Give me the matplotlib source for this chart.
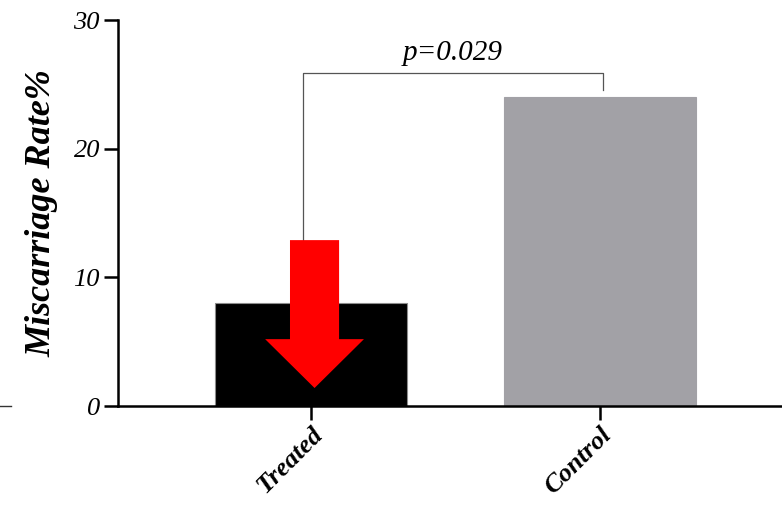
import matplotlib
matplotlib.use("Agg")
import matplotlib.pyplot as plt
from matplotlib.patches import FancyArrow
from matplotlib.lines import Line2D

groups = ["Treated", "Control"]
rates = [8.0, 24.0]
bar_colors = ["#000000", "#a2a1a6"]
y_ticks = [0, 10, 20, 30]
p_label = "p=0.029"

plt.rcParams["font.family"] = ["Liberation Serif", "DejaVu Serif"]

fig = plt.figure(figsize=(7.82, 5.05), dpi=100)
ax = fig.add_axes([0.151, 0.196, 0.849, 0.764])

x = list(range(len(groups)))
ax.bar(x, rates, width=0.665, color=bar_colors,
       edgecolor=["#8c8c8c", "#a2a1a6"], linewidth=0.8, zorder=2)

ax.set_xlim(-0.668, 1.63)
ax.set_ylim(0, 30)
ax.set_yticks(y_ticks)
ax.set_yticklabels([str(v) for v in y_ticks], fontsize=19, style="italic")
ax.set_xticks(x)
ax.set_xticklabels(groups, fontsize=19, style="italic", weight="bold",
                   rotation=45, ha="right", rotation_mode="anchor")
ax.tick_params(axis="both", direction="out", length=10, width=1.8,
               color="black", pad=3)
ax.tick_params(axis="x", pad=2)

for side in ("top", "right"):
    ax.spines[side].set_visible(False)
for side in ("left", "bottom"):
    ax.spines[side].set_linewidth(1.8)
ax.spines["bottom"].set_zorder(3)

ax.set_ylabel("Miscarriage Rate%", fontsize=26, style="italic",
              weight="bold", labelpad=11)

# red arrow pointing down over the treated bar
arrow_x = 0.012
ax.add_patch(FancyArrow(arrow_x, 12.9, 0, -11.5, width=0.17,
                        head_width=0.342, head_length=3.8,
                        length_includes_head=True, color="#ff0000",
                        linewidth=0, zorder=4))

# significance bracket
br_top = 25.9
ax.plot([-0.028, -0.028, 1.01, 1.01], [12.9, br_top, br_top, 24.6],
        color="#555555", linewidth=0.9, zorder=3, clip_on=False)
ax.text(0.49, br_top + 0.5, p_label, ha="center", va="bottom",
        fontsize=21, style="italic")

# short stray dash at the far left of the baseline
fig.add_artist(Line2D([0.0, 0.014], [0.196, 0.196], color="#333333",
                      linewidth=1.0))

fig.savefig("out.png", dpi=100)
